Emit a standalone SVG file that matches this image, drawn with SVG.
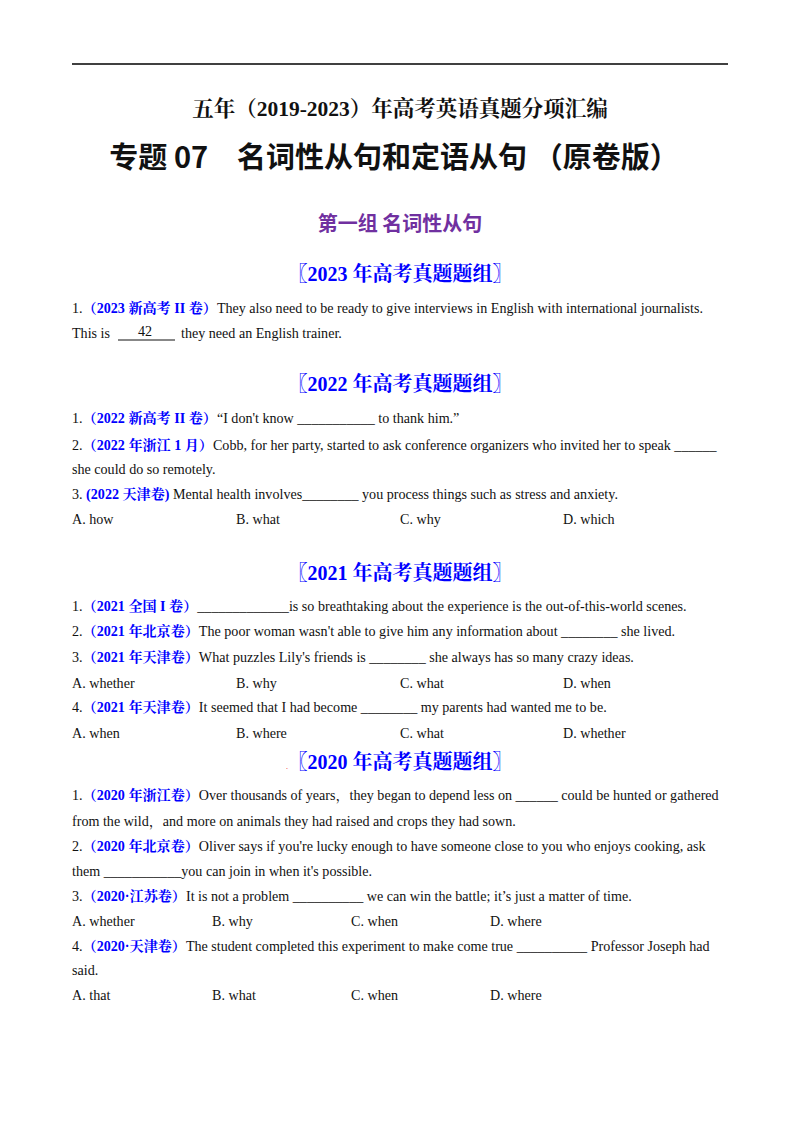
<svg xmlns="http://www.w3.org/2000/svg" width="800" height="1132" viewBox="0 0 800 1132">
<style>
text{font-family:"Liberation Serif","Noto Serif CJK SC","Noto Sans CJK SC",serif;fill:#111}
.b{font-size:14.1px}
.s{fill:#0000FF;font-weight:bold}
.h{font-size:20px;font-weight:bold;fill:#0000FF;text-anchor:middle}
</style>
<rect width="800" height="1132" fill="#fff"/>
<line x1="72" y1="64" x2="728" y2="64" stroke="#000" stroke-width="1.5"/>
<text x="400" y="116" text-anchor="middle" style="font-size:21.5px;font-weight:bold">五年（2019-2023）年高考英语真题分项汇编</text>
<text x="394" y="168" text-anchor="middle" style="font-size:29px;font-weight:bold;font-family:'Noto Sans CJK SC',sans-serif">专题 07　名词性从句和定语从句 （原卷版）</text>
<text x="400" y="231" text-anchor="middle" style="font-size:20px;font-weight:bold;fill:#7030A0;font-family:'Noto Sans CJK SC',sans-serif">第一组 名词性从句</text>

<text class="h" x="400" y="281">〖2023 年高考真题题组〗</text>
<text class="b" x="72" y="313">1.<tspan class="s">（2023 新高考 II 卷）</tspan>They also need to be ready to give interviews  in English with international journalists.</text>
<text class="b" x="72" y="338">This is</text>
<text class="b" x="138" y="336">42</text>
<line x1="118" y1="340" x2="175" y2="340" stroke="#111"/>
<text class="b" x="181" y="338">they need an English trainer.</text>

<text class="h" x="400" y="391">〖2022 年高考真题题组〗</text>
<text class="b" x="72" y="423">1.<tspan class="s">（2022 新高考 II 卷）</tspan>“I don't know  ___________  to thank him.”</text>
<text class="b" x="72" y="450">2.<tspan class="s">（2022 年浙江 1 月）</tspan>Cobb, for her party, started to ask conference organizers who invited her to speak ______</text>
<text class="b" x="72" y="474">she could do so remotely.</text>
<text class="b" x="72" y="499">3. <tspan class="s">(2022 天津卷)</tspan> Mental health involves________ you process things such as stress and anxiety.</text>
<text class="b" x="72" y="524">A.  how</text><text class="b" x="236" y="524">B.  what</text><text class="b" x="400" y="524">C.  why</text><text class="b" x="563" y="524">D.  which</text>

<text class="h" x="400" y="580">〖2021 年高考真题题组〗</text>
<text class="b" x="72" y="611">1.<tspan class="s">（2021 全国 I 卷）</tspan>_____________is so breathtaking about the experience is the out-of-this-world scenes.</text>
<text class="b" x="72" y="636">2.<tspan class="s">（2021 年北京卷）</tspan>The poor woman wasn't able to give him any information about  ________  she lived.</text>
<text class="b" x="72" y="662">3.<tspan class="s">（2021 年天津卷）</tspan>What puzzles Lily's friends is ________ she always has so many crazy ideas.</text>
<text class="b" x="72" y="688">A.  whether</text><text class="b" x="236" y="688">B.  why</text><text class="b" x="400" y="688">C.  what</text><text class="b" x="563" y="688">D.  when</text>
<text class="b" x="72" y="712">4.<tspan class="s">（2021 年天津卷）</tspan>It seemed that I had become ________ my parents had wanted me to be.</text>
<text class="b" x="72" y="738">A.  when</text><text class="b" x="236" y="738">B.  where</text><text class="b" x="400" y="738">C.  what</text><text class="b" x="563" y="738">D.  whether</text>

<text x="286" y="769" style="font-size:8px;fill:#e00">.</text>
<text class="h" x="400" y="769">〖2020 年高考真题题组〗</text>
<text class="b" x="72" y="800">1.<tspan class="s">（2020 年浙江卷）</tspan>Over thousands of years，they began to depend less on  ______  could be hunted or gathered</text>
<text class="b" x="72" y="826">from the wild，and more on animals they had raised and crops they had sown.</text>
<text class="b" x="72" y="851">2.<tspan class="s">（2020 年北京卷）</tspan>Oliver says if you're  lucky  enough to have someone close to you who enjoys cooking, ask</text>
<text class="b" x="72" y="876">them  ___________you can join in when it's possible.</text>
<text class="b" x="72" y="901">3.<tspan class="s">（2020·江苏卷）</tspan>It is not a problem __________ we can win the battle; it’s just a matter of time.</text>
<text class="b" x="72" y="926">A. whether</text><text class="b" x="212" y="926">B. why</text><text class="b" x="351" y="926">C. when</text><text class="b" x="490" y="926">D. where</text>
<text class="b" x="72" y="951">4.<tspan class="s">（2020·天津卷）</tspan>The student completed this experiment to make come true __________ Professor Joseph had</text>
<text class="b" x="72" y="975">said.</text>
<text class="b" x="72" y="1000">A. that</text><text class="b" x="212" y="1000">B. what</text><text class="b" x="351" y="1000">C. when</text><text class="b" x="490" y="1000">D. where</text>
</svg>
